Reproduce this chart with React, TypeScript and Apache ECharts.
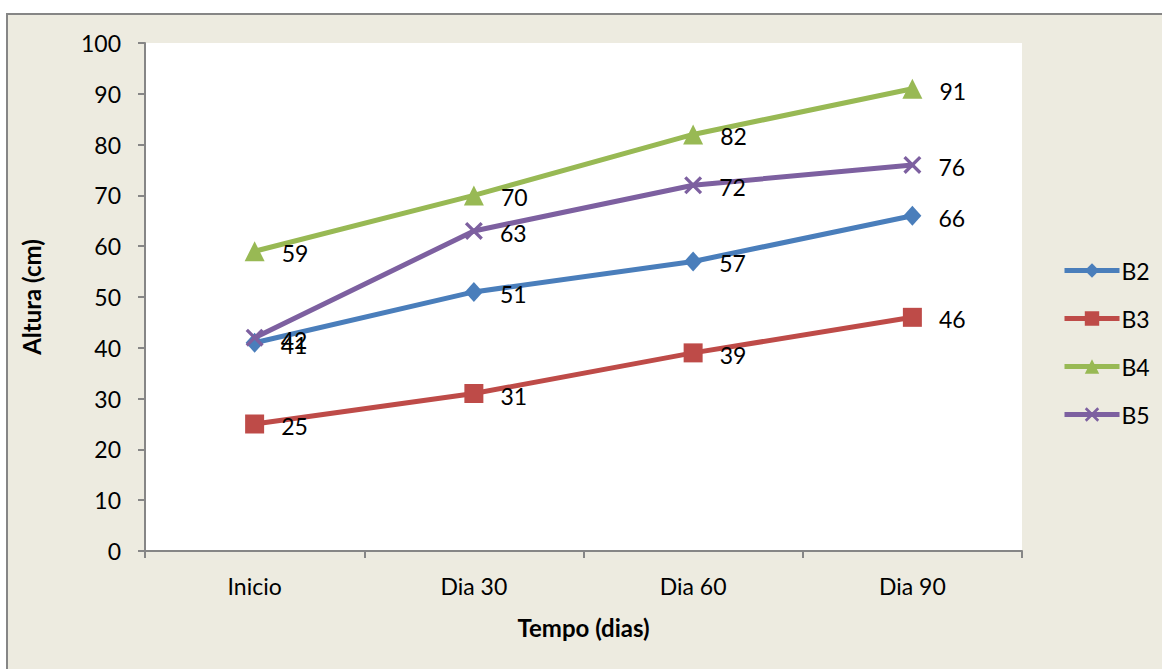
import React, { useEffect, useRef } from "react";
import * as echarts from "echarts";

// Plant height by treatment over time
const categories = ["Inicio", "Dia 30", "Dia 60", "Dia 90"];
const seriesNames = ["B2", "B3", "B4", "B5"];
const b2 = [41, 51, 57, 66];
const b3 = [25, 31, 39, 46];
const b4 = [59, 70, 82, 91];
const b5 = [42, 63, 72, 76];
const yTicks = { min: 0, max: 100, interval: 10 };

const FONT = "Lato, 'Open Sans', sans-serif";
const FS = 23;
const AXIS_GREY = "#868686";
const PANEL = "#EDEBE0";

// Filled X-shaped marker (two crossing bars)
const CROSS =
  "path://M0,1.3L1.3,0L10,8.7L8.7,10Z M8.7,0L10,1.3L1.3,10L0,8.7Z";

const styles = [
  { color: "#4A7EBB", symbol: "diamond", size: [18, 20] },
  { color: "#BE4B48", symbol: "rect", size: 19 },
  { color: "#98B954", symbol: "triangle", size: 20 },
  { color: "#7D60A0", symbol: CROSS, size: 18 },
];

export default function App() {
  const ref = useRef<HTMLDivElement>(null);

  useEffect(() => {
    if (!ref.current) return;
    const chart = echarts.init(ref.current, undefined, { renderer: "svg" });
    const data = [b2, b3, b4, b5];

    chart.setOption({
      animation: false,
      backgroundColor: "#ffffff",
      graphic: [
        {
          type: "rect",
          shape: { x: 7, y: 14, width: 1170, height: 670 },
          style: { fill: PANEL, stroke: AXIS_GREY, lineWidth: 2 },
          z: -10,
          silent: true,
        },
      ],
      grid: {
        left: 145,
        top: 43,
        right: 140,
        bottom: 118,
        show: true,
        backgroundColor: "#ffffff",
        borderWidth: 0,
      },
      legend: {
        orient: "vertical",
        left: 1062,
        top: 259,
        padding: 0,
        itemWidth: 55,
        itemHeight: 18,
        itemGap: 25,
        lineStyle: { width: 5 },
        textStyle: { fontFamily: FONT, fontSize: FS, color: "#000", padding: [0, 0, 0, -3] },
        data: seriesNames,
      },
      xAxis: {
        type: "category",
        data: categories,
        boundaryGap: true,
        name: "Tempo (dias)",
        nameLocation: "middle",
        nameGap: 64,
        nameTextStyle: {
          fontFamily: FONT,
          fontSize: 24,
          fontWeight: "bold",
          color: "#000",
        },
        axisLine: { lineStyle: { color: AXIS_GREY, width: 2 } },
        axisTick: {
          show: true,
          length: 7,
          lineStyle: { color: AXIS_GREY, width: 2 },
        },
        axisLabel: {
          fontFamily: FONT,
          fontSize: FS,
          color: "#000",
          margin: 23,
        },
      },
      yAxis: {
        type: "value",
        min: yTicks.min,
        max: yTicks.max,
        interval: yTicks.interval,
        name: "Altura (cm)",
        nameLocation: "middle",
        nameGap: 102,
        nameTextStyle: {
          fontFamily: FONT,
          fontSize: 24,
          fontWeight: "bold",
          color: "#000",
        },
        axisLine: { show: true, lineStyle: { color: AXIS_GREY, width: 2 } },
        axisTick: {
          show: true,
          length: 7,
          lineStyle: { color: AXIS_GREY, width: 2 },
        },
        splitLine: { show: false },
        axisLabel: {
          fontFamily: FONT,
          fontSize: FS,
          color: "#000",
          margin: 24,
        },
      },
      series: seriesNames.map((name, i) => ({
        name,
        type: "line",
        data: data[i],
        symbol: styles[i].symbol,
        symbolSize: styles[i].size,
        showAllSymbol: true,
        lineStyle: { color: styles[i].color, width: 5 },
        itemStyle: { color: styles[i].color },
        label: {
          show: true,
          position: "right",
          distance: 17,
          offset: [0, 2],
          fontFamily: FONT,
          fontSize: FS,
          color: "#000",
        },
        z: 2 + i,
      })),
    });

    return () => chart.dispose();
  }, []);

  return (
    <div
      ref={ref}
      style={{ position: "fixed", left: 0, top: 0, width: 1162, height: 669 }}
    />
  );
}
